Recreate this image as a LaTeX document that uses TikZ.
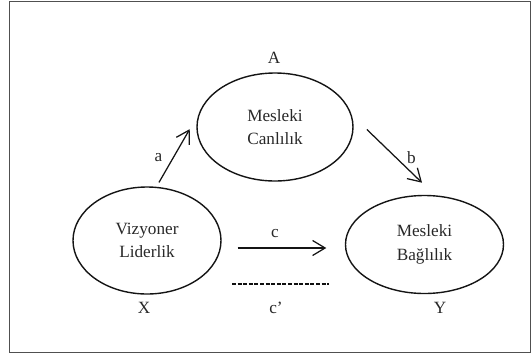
\documentclass[tikz,border=0pt]{standalone}
\usepackage{fontspec}
\setmainfont{Liberation Serif}
\usetikzlibrary{shapes.geometric,arrows.meta}
\begin{document}
\begin{tikzpicture}[x=1pt,y=-1pt,
  txt/.style={text={rgb,255:red,40;green,40;blue,40},font=\fontsize{17.2}{23.5}\selectfont},
  oval/.style={draw={rgb,255:red,20;green,20;blue,20},line width=1.4pt,ellipse,inner sep=0pt,align=center,txt},
  arr/.style={draw={rgb,255:red,20;green,20;blue,20},line width=1.25pt,-{Straight Barb[length=12.5pt,width=15pt,line width=1.25pt]}},
  lbl/.style={txt,inner sep=0pt}]
\useasboundingbox (0,0) rectangle (531,357);
\draw[draw={rgb,255:red,80;green,80;blue,80},line width=1pt] (9.5,1) rectangle (530.5,352);
\node[oval,minimum width=156pt,minimum height=108pt] (A) at (275,127) {Mesleki\\Canlılık};
\node[oval,minimum width=148pt,minimum height=107pt] (X) at (147,240.5) {Vizyoner\\Liderlik};
\node[oval,minimum width=158pt,minimum height=98pt] (Y) at (424.5,244.5) {Mesleki\\Bağlılık};
\node[lbl] (lA) at (274,57.6) {A};
\node[lbl] (lX) at (144,308) {X};
\node[lbl] (lY) at (440,308) {Y};
\node[lbl] (la) at (158.5,157.5) {a};
\node[lbl] (lb) at (411.5,157.5) {b};
\node[lbl] (lc) at (275,233.7) {c};
\node[lbl] (lcp) at (276,308) {c’};
\draw[arr,shorten <=5pt,shorten >=18pt] (X.80) -- (A.170.3);
\draw[arr,shorten <=21pt,shorten >=18pt] (A.9.5) -- (Y.78.2);
\draw[arr,shorten <=16pt,shorten >=18.5pt] ([yshift=-7.5pt]X.east) -- ([yshift=-3.5pt]Y.west);
\coordinate (d1) at (232,284);
\coordinate (d2) at (329,284);
\draw[line width=1.3pt,dash pattern=on 4pt off 1.6pt,draw={rgb,255:red,15;green,15;blue,15}] (d1) -- (d2);
\end{tikzpicture}
\end{document}
